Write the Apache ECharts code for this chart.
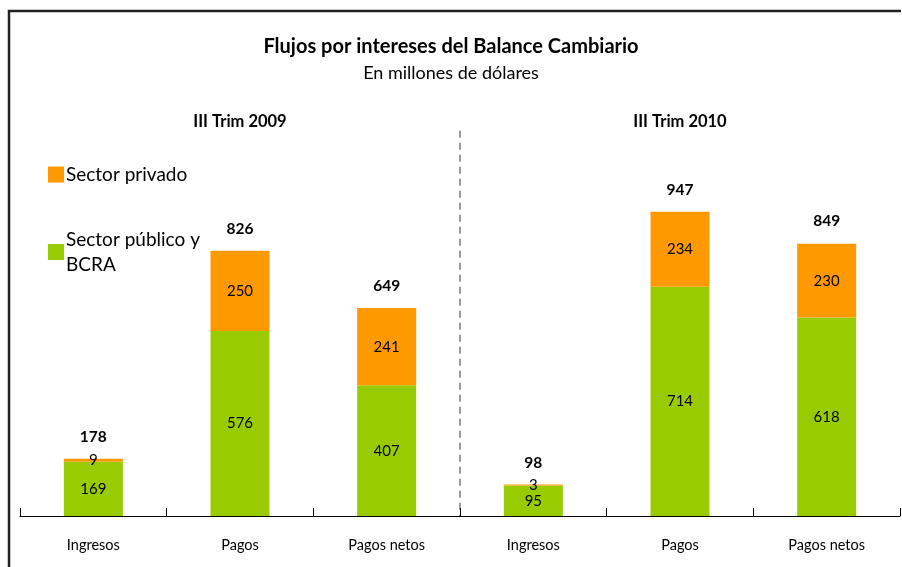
<!DOCTYPE html>
<html>
<head>
<meta charset="utf-8">
<script src="https://cdn.jsdelivr.net/npm/echarts@6/dist/echarts.min.js"></script>
<style>
  html, body { margin: 0; padding: 0; background: #fff; }
  #chart { width: 902px; height: 567px; }
</style>
</head>
<body>
<div id="chart"></div>
<script>
const categories = ['Ingresos', 'Pagos', 'Pagos netos', 'Ingresos', 'Pagos', 'Pagos netos']
const periods = ['III Trim 2009', 'III Trim 2010']
const publico = [169, 576, 407, 95, 714, 618]
const privado = [9, 250, 241, 3, 234, 230]
const totales = [178, 826, 649, 98, 947, 849]

const font = 'Lato, "Open Sans", sans-serif'
const chart = echarts.init(document.getElementById('chart'))

const option = {
    animation: false,
    textStyle: { fontFamily: font, color: '#000' },
    title: {
        text: 'Flujos por intereses del Balance Cambiario',
        subtext: 'En millones de dólares',
        left: 'center',
        top: 32,
        itemGap: 7,
        textStyle: { fontFamily: font, fontSize: 20, fontWeight: 'bold', color: '#000' },
        subtextStyle: { fontFamily: font, fontSize: 18, color: '#000' }
    },
    legend: {
        orient: 'vertical',
        left: 43,
        top: 157,
        itemWidth: 16,
        itemHeight: 16,
        itemGap: 40,
        icon: 'rect',
        data: ['Sector privado', 'Sector público y\nBCRA'],
        textStyle: { fontFamily: font, fontSize: 19, color: '#000', lineHeight: 25, padding: [0, 0, 0, -3] }
    },
    grid: { left: 20, right: 2, top: 195, bottom: 51 },
    xAxis: [
        {
            type: 'category',
            data: categories,
            axisLine: { lineStyle: { color: '#000', width: 1 } },
            axisTick: { show: true, length: 8, inside: true, lineStyle: { color: '#000' } },
            axisLabel: { margin: 22, fontSize: 14.5, color: '#000', fontFamily: font }
        },
        {
            type: 'category',
            data: periods,
            position: 'top',
            offset: 57,
            axisLine: { show: false },
            axisTick: { show: false },
            axisLabel: { fontSize: 16.5, fontWeight: 'bold', color: '#000', fontFamily: font }
        },
        {
            type: 'value',
            min: 0,
            max: 6,
            show: false
        }
    ],
    yAxis: {
        type: 'value',
        min: 0,
        max: 1000,
        show: false,
        splitLine: { show: false }
    },
    series: [
        {
            name: 'Sector público y\nBCRA',
            type: 'bar',
            stack: 'total',
            barWidth: 59,
            data: publico,
            itemStyle: { color: '#99CC00' },
            label: { show: true, position: 'inside', fontSize: 15, color: '#000', fontFamily: font }
        },
        {
            name: 'Sector privado',
            type: 'bar',
            stack: 'total',
            data: privado,
            itemStyle: { color: '#FF9900' },
            label: { show: true, position: 'inside', fontSize: 15, color: '#000', fontFamily: font }
        },
        {
            name: 'Total',
            type: 'bar',
            barWidth: 59,
            barGap: '-100%',
            data: totales,
            itemStyle: { color: 'transparent' },
            label: {
                show: true, position: 'top', distance: 14,
                fontSize: 15.5, fontWeight: 'bold', color: '#000', fontFamily: font
            },
            z: 1
        }
    ]
}

chart.setOption(option)

// dashed separator between the two periods, placed through the axes
const sepX = chart.convertToPixel({ xAxisIndex: 2 }, 3)
const sepTop = chart.convertToPixel({ yAxisIndex: 0 }, 1200)
const sepBottom = chart.convertToPixel({ yAxisIndex: 0 }, 0)

chart.setOption({
    graphic: [
        {
            type: 'polyline',
            shape: { points: [[9, 567], [9, 11], [901, 11]] },
            style: { stroke: '#222', lineWidth: 2.5, fill: null }
        },
        {
            type: 'line',
            shape: { x1: sepX, y1: sepTop, x2: sepX, y2: sepBottom },
            style: { stroke: '#666', lineWidth: 1.3, lineDash: [7, 5] }
        }
    ]
})
</script>
</body>
</html>
